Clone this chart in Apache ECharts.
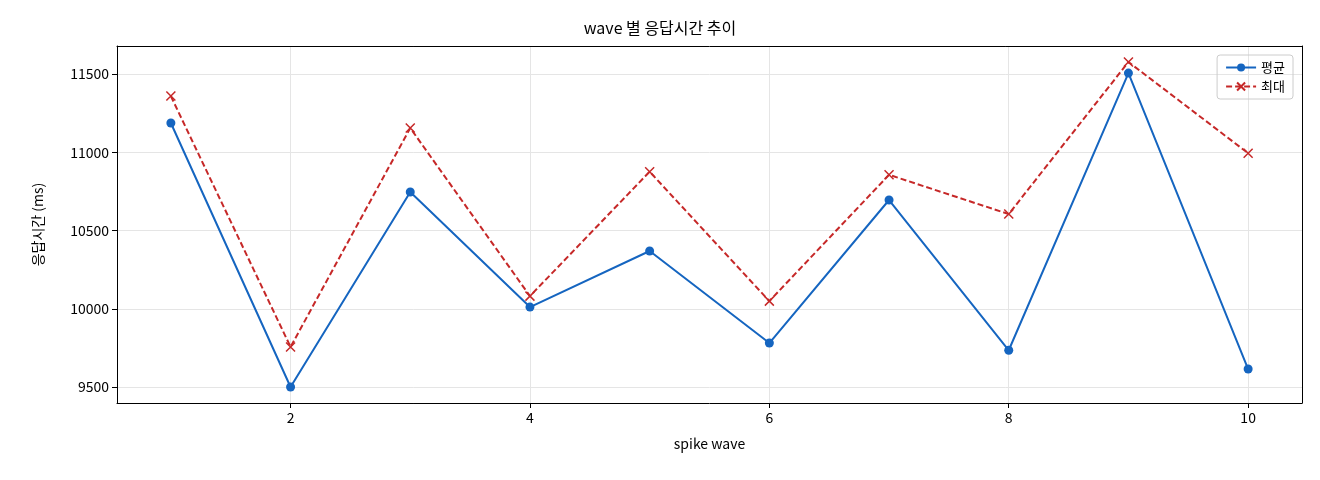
<!DOCTYPE html>
<html><head><meta charset="utf-8">
<script src="https://cdn.jsdelivr.net/npm/echarts@6/dist/echarts.min.js"></script>
<style>body{margin:0}#c{width:1320px;height:480px}</style></head>
<body><div id="c"></div>
<script>
const waves=[1,2,3,4,5,6,7,8,9,10];
const avgVals=[11187,9500,10746,10011,10369,9781,10695,9735,11506,9615];
const maxVals=[11359,9756,11155,10081,10876,10049,10856,10605,11577,10994];
const xTicks=[2,4,6,8,10];
const yTicks=[9500,10000,10500,11000,11500];
const font='"Noto Sans CJK KR","DejaVu Sans",sans-serif';
const c=echarts.init(document.getElementById('c'));
c.setOption({
 animation:false,
 title:{text:'wave 별 응답시간 추이',left:'center',top:15,textStyle:{fontSize:16,fontWeight:'normal',color:'#000',fontFamily:font}},
 grid:{left:117,right:18,top:46,bottom:77},
 legend:{right:27,top:55,orient:'vertical',itemGap:6,itemWidth:30,itemHeight:10,borderColor:'#ccc',borderWidth:1,borderRadius:3,padding:[6,8],textStyle:{fontSize:13,fontFamily:font,color:'#000'},data:['평균','최대']},
 xAxis:[{type:'value',min:0.55,max:10.45,name:'spike wave',nameLocation:'middle',nameGap:34,nameTextStyle:{fontSize:14,fontFamily:font,color:'#000'},
  axisLine:{onZero:false,lineStyle:{color:'#000'}},axisTick:{customValues:xTicks,lineStyle:{color:'#000'}},
  axisLabel:{customValues:xTicks,fontSize:14,color:'#000',fontFamily:font,formatter:v=>String(v)},
  splitLine:{show:true,lineStyle:{color:'#e5e5e5'}}},
  {type:'value',position:'top',min:0.55,max:10.45,axisLine:{show:true,onZero:false,lineStyle:{color:'#000'}},axisTick:{show:false},axisLabel:{show:false},splitLine:{show:false}}],
 yAxis:[{type:'value',min:9398,max:11679,name:'응답시간 (ms)',nameLocation:'middle',nameGap:72,nameTextStyle:{fontSize:14,fontFamily:font,color:'#000'},
  axisLine:{show:true,lineStyle:{color:'#000'}},axisTick:{show:true,customValues:yTicks,lineStyle:{color:'#000'}},
  axisLabel:{customValues:yTicks,fontSize:14,color:'#000',fontFamily:font,formatter:v=>String(v)},
  splitLine:{show:true,lineStyle:{color:'#e5e5e5'}}},
  {type:'value',position:'right',min:9398,max:11679,axisLine:{show:true,onZero:false,lineStyle:{color:'#000'}},axisTick:{show:false},axisLabel:{show:false},splitLine:{show:false}}],
 series:[
  {name:'평균',type:'line',data:waves.map((w,i)=>[w,avgVals[i]]),symbol:'circle',symbolSize:9,
   lineStyle:{color:'#1565c0',width:2},itemStyle:{color:'#1565c0'}},
  {name:'최대',type:'line',data:waves.map((w,i)=>[w,maxVals[i]]),symbol:'path://M0,0L10,10M10,0L0,10',symbolSize:9,
   lineStyle:{color:'#c62828',width:2,type:[6,3]},itemStyle:{color:'none',borderColor:'#c62828',borderWidth:1.5}}
 ]
});
</script></body></html>
